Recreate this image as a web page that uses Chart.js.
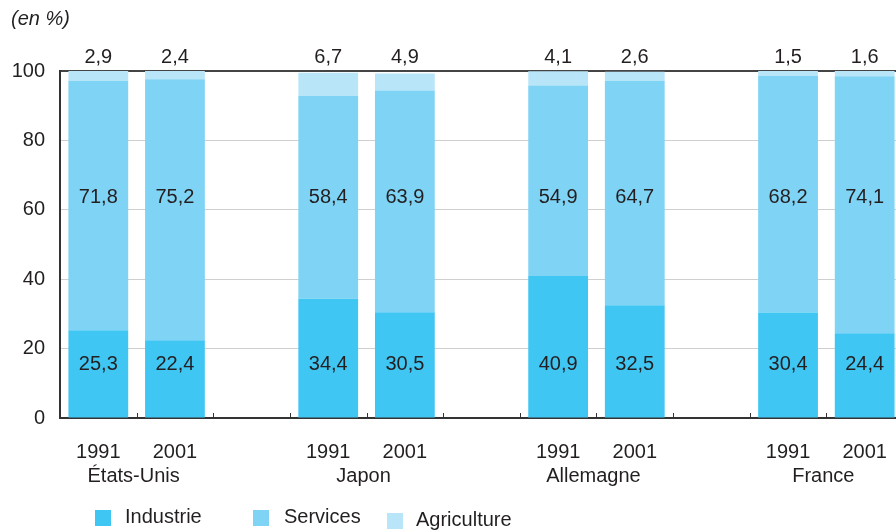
<!DOCTYPE html>
<html>
<head>
<meta charset="utf-8">
<script src="https://cdn.jsdelivr.net/npm/chart.js@4.4.1/dist/chart.umd.min.js"></script>
<style>
  html, body { margin: 0; padding: 0; background: #fff; width: 896px; height: 531px; overflow: hidden; }
  #wrap { position: relative; width: 910px; height: 531px; }
  #unit { position: absolute; left: 11px; top: 7px; font: italic 20px "Liberation Sans", Arial, sans-serif; color: #231f20; }
  .leg { position: absolute; top: 505px; font: 20px "Liberation Sans", Arial, sans-serif; color: #231f20; }
  .leg span { position: absolute; width: 16px; height: 16px; top: 5px; }
  .leg b { font-weight: normal; position: absolute; white-space: nowrap; }
</style>
</head>
<body>
<div id="wrap">
  <canvas id="chart" width="910" height="531"></canvas>
  <div id="unit">(en %)</div>
  <div class="leg" style="left:95px"><span style="left:0;background:#40c6f3"></span><b style="left:30px">Industrie</b></div>
  <div class="leg" style="left:253px"><span style="left:0;background:#7fd3f5"></span><b style="left:31px">Services</b></div>
  <div class="leg" style="left:387px;top:508px"><span style="left:0;background:#b9e5f9"></span><b style="left:29px">Agriculture</b></div>
</div>
<script>
// --- données ---
const years = ['1991', '2001', '', '1991', '2001', '', '1991', '2001', '', '1991', '2001'];
const countries = ['États-Unis', 'Japon', 'Allemagne', 'France'];
const industrie   = [25.3, 22.4, null, 34.4, 30.5, null, 40.9, 32.5, null, 30.4, 24.4];
const services    = [71.8, 75.2, null, 58.4, 63.9, null, 54.9, 64.7, null, 68.2, 74.1];
const agriculture = [2.9, 2.4, null, 6.7, 4.9, null, 4.1, 2.6, null, 1.5, 1.6];
const yTicks = [0, 20, 40, 60, 80, 100];

const FONT = '"Liberation Sans", Arial, sans-serif';
const TXT = '#231f20';
const fmt = v => v.toFixed(1).replace('.', ',');

// étiquettes dans les barres + noms de pays + petites graduations
const labelsPlugin = {
    id: 'labels',
    afterDatasetsDraw(chart) {
        const ctx = chart.ctx;
        const x = chart.scales.x, y = chart.scales.y;
        ctx.save();
        ctx.fillStyle = TXT;
        ctx.font = '20px ' + FONT;
        ctx.textAlign = 'center';
        ctx.textBaseline = 'middle';
        years.forEach((yr, i) => {
            if (industrie[i] == null) return;
            const px = x.getPixelForValue(i);
            ctx.fillText(fmt(industrie[i]), px, y.getPixelForValue(15.3));
            ctx.fillText(fmt(services[i]), px, y.getPixelForValue(63.5));
            ctx.fillText(fmt(agriculture[i]), px, y.getPixelForValue(104));
        });
        // pays
        countries.forEach((c, k) => {
            const px = (x.getPixelForValue(k * 3) + x.getPixelForValue(k * 3 + 1)) / 2;
            ctx.fillText(c, px - 3, 476);
        });
        // graduations sur l'axe x
        ctx.strokeStyle = '#333';
        ctx.lineWidth = 1;
        for (let i = 1; i < years.length; i++) {
            const px = Math.round((x.getPixelForValue(i - 1) + x.getPixelForValue(i)) / 2) + 0.5;
            ctx.beginPath();
            ctx.moveTo(px, y.bottom);
            ctx.lineTo(px, y.bottom - 5);
            ctx.stroke();
        }
        ctx.restore();
    }
};

new Chart(document.getElementById('chart'), {
    type: 'bar',
    data: {
        labels: years,
        datasets: [
            { label: 'Industrie', data: industrie, backgroundColor: '#40c6f3' },
            { label: 'Services', data: services, backgroundColor: '#7fd3f5' },
            { label: 'Agriculture', data: agriculture, backgroundColor: '#b9e5f9' }
        ]
    },
    options: {
        responsive: false,
        animation: false,
        layout: { padding: { top: 71, right: 7, left: 0, bottom: 0 } },
        datasets: { bar: { categoryPercentage: 1, barPercentage: 0.78 } },
        plugins: { legend: { display: false }, tooltip: { enabled: false } },
        scales: {
            x: {
                stacked: true,
                grid: { display: false },
                border: { color: '#333', width: 2 },
                ticks: { color: TXT, font: { family: FONT, size: 20 }, padding: 14, maxRotation: 0, autoSkip: false },
                afterFit: s => { s.height = 113; }
            },
            y: {
                stacked: true,
                min: 0, max: 100,
                afterBuildTicks: s => { s.ticks = yTicks.map(v => ({ value: v })); },
                grid: {
                    color: c => c.tick.value === 100 ? '#444' : '#cfcfcf',
                    lineWidth: c => c.tick.value === 100 ? 2 : 1,
                    drawTicks: false
                },
                border: { color: '#333', width: 2 },
                ticks: { color: TXT, font: { family: FONT, size: 20 }, padding: 15 },
                afterFit: s => { s.width = 60; }
            }
        }
    },
    plugins: [labelsPlugin]
});
</script>
</body>
</html>
